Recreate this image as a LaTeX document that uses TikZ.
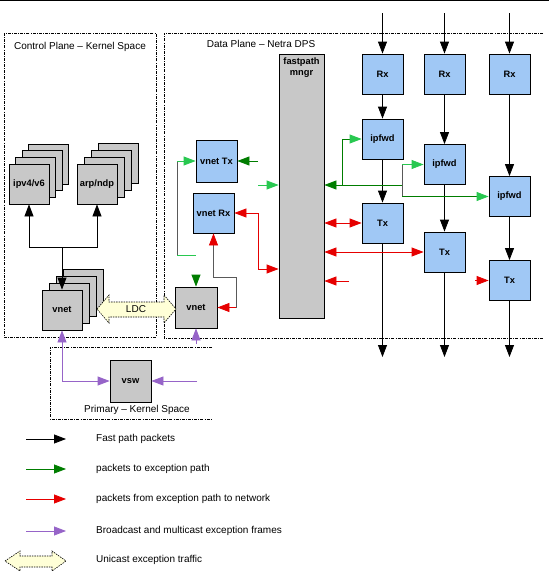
\documentclass[tikz,border=0pt]{standalone}
\usepackage{fontspec}
\setmainfont{Liberation Sans}
\usetikzlibrary{arrows.meta,positioning}
\definecolor{dpsblue}{RGB}{160,200,245}
\definecolor{boxgray}{RGB}{200,200,200}
\definecolor{lgrn}{RGB}{40,200,80}
\definecolor{dgrn}{RGB}{0,125,0}
\definecolor{exred}{RGB}{230,0,0}
\definecolor{bcpurp}{RGB}{150,100,200}
\definecolor{ldcyel}{RGB}{255,255,215}
\tikzset{
 blk/.style={draw,line width=.8pt,fill=dpsblue,minimum width=41pt,minimum height=40pt,inner sep=0pt,font=\fontsize{9.3}{10}\selectfont\bfseries},
 gry/.style={draw,line width=.8pt,fill=boxgray,minimum width=40pt,minimum height=40pt,inner sep=0pt,font=\fontsize{9.3}{10}\selectfont\bfseries},
 plane/.style={draw,line width=.7pt,dash pattern=on 3pt off 1.2pt on .8pt off 1.2pt},
 ttl/.style={font=\fontsize{10}{12}\selectfont,inner sep=0pt},
 fp/.style={draw=black,line width=.8pt,->},
 exr/.style={draw=exred,line width=.8pt},
 exg/.style={draw=dgrn,line width=.8pt},
 exlg/.style={draw=lgrn,line width=.8pt},
 bc/.style={draw=bcpurp,line width=.8pt},
 gline/.style={draw=black!65,line width=.8pt},
 ldcarrow/.style={draw,fill=ldcyel,line width=.6pt,dash pattern=on 1.5pt off 1pt}
}
\begin{document}
\begin{tikzpicture}[x=1pt,y=-1pt,>={Triangle[length=12pt,width=9pt]}]
\useasboundingbox (0,0) rectangle (549,584);
\draw[line width=1pt](0,.5)--(549,.5);
% planes
\draw[plane](4,33) rectangle (156,337);
\draw[plane](543,33)--(164,33)--(164,338)--(543,338);
\draw[plane](212,347)--(50,347)--(50,419)--(212,419);
\node[ttl] (ctltitle) at (80,47){Control Plane -- Kernel Space};
\node[ttl] (dptitle) at (261,44){Data Plane -- Netra DPS};
\node[ttl] (pktitle) at (137,410){Primary -- Kernel Space};
% control plane stacks
\foreach \i in {3,2,1}{\node[gry] at (29+6.6*\i,184-6.6*\i){};\node[gry] at (97+7*\i,184-7*\i){};\node[gry] at (62+7*\i,310-7*\i){};}
\node[gry] (ipv4) at (29,184){ipv4/v6};
\node[gry] (arp) at (97,184){arp/ndp};
\node[gry] (cvnet) at (62,310){vnet};
\coordinate (jn) at (62,247);
\draw[fp](jn) -| (ipv4.south);\draw[fp](jn) -| (arp.south);\draw[fp](jn)--(cvnet.north);
% data plane
\node[gry,minimum width=45pt,minimum height=264pt] (fpm) at (301.5,186){};
\node[ttl,font=\fontsize{9.3}{10.5}\selectfont\bfseries,align=center,below=4pt of fpm.north] (fpmlbl){fastpath\\mngr};
\node[blk,minimum height=42pt] (vtx) at (216.5,161){vnet Tx};
\node[blk] (vrx) at (213.5,213){vnet Rx};
\node[gry,minimum width=42pt,minimum height=41pt] (dvnet) at (196,307.5){vnet};
\node[gry,minimum width=41pt,minimum height=42pt] (vsw) at (130.5,381){vsw};
\foreach \i/\x/\yf/\yt in {1/382.5/139/223,2/444.5/164.5/252,3/509.5/196.5/280.5}{
 \node[blk] (rx\i) at (\x,74){Rx};\node[blk] (ipf\i) at (\x,\yf){ipfwd};\node[blk] (tx\i) at (\x,\yt){Tx};
 \coordinate (in\i) at (\x,13);\coordinate (out\i) at (\x,357);
 \draw[fp](in\i)--(rx\i);\draw[fp](rx\i)--(ipf\i);\draw[fp](ipf\i)--(tx\i);\draw[fp](tx\i)--(out\i);}
% LDC
\draw[ldcarrow](97,309)--(109,295)--(109,302)--(164,302)--(164,295)--(176,309)--(164,323)--(164,317)--(109,317)--(109,323)--cycle;
\node[font=\fontsize{10}{12}\selectfont] (ldc) at (136,309){LDC};
% exception path, green
\coordinate (g1) at (196,255);\coordinate (g2) at (177,255);\coordinate (g3) at (177,161);
\draw[exlg](g1)--(g2);\draw[gline](g2)--(g3);\draw[exlg,->](g3)--(vtx.west);
\coordinate (g4) at (258,161);\draw[exg,->](g4)--(vtx.east);
\coordinate (g5) at (258,185);\draw[exlg,->](g5)--(g5 -| fpm.west);
\coordinate (g6) at (402,185);\coordinate (g7) at (342,185);
\draw[exg,->](g6)--(g6 -| fpm.east);
\draw[exg,-{Triangle[length=12pt,width=9pt,color=lgrn]}](g7) |- (ipf1.west);
\coordinate (g8) at (402,164.5);\coordinate (g9) at (402,196.5);
\draw[gline](g8)--(g9);\draw[exlg,->](g8)--(ipf2.west);
\draw[exg,-{Triangle[length=12pt,width=9pt,color=lgrn]}](g9)--(ipf3.west);
\coordinate (g10) at (196,275);\draw[exg,->](g10)--(dvnet.north);
% exception path, red
\coordinate (r1) at (258,213);\coordinate (r2) at (258,269);
\draw[exr,<->](vrx.east)--(r1)--(r2)--(r2 -| fpm.west);
\coordinate (r3) at (236,307.5);\coordinate (r4) at (213.5,277);
\draw[exr,<-](dvnet.east)--(r3);
\draw[gline,-{Triangle[length=12pt,width=9pt,color=exred]}](r3) |- (r4)--(vrx.south);
\draw[exr,<->](tx1.west -| fpm.east)--(tx1.west);
\draw[exr,<->](tx2.west -| fpm.east)--(tx2.west);
\coordinate (r5) at (349,281);\coordinate (r6) at (475,280.5);
\draw[exr,->](r5)--(r5 -| fpm.east);\draw[exr,->](r6)--(tx3.west);
% broadcast
\draw[bc,<->](cvnet.south) |- (vsw.west);
\coordinate (b1) at (197,381);\draw[bc,->](b1)--(vsw.east);
\coordinate (b2) at (196,344);\draw[bc,->](b2)--(dvnet.south);
% legend
\foreach \y/\c/\t [count=\n] in {439/black/Fast path packets,469/dgrn/packets to exception path,499/exred/packets from exception path to network,531/bcpurp/Broadcast and multicast exception frames}{
 \coordinate (la\n) at (26,\y);\coordinate (lb\n) at (66,\y);
 \draw[draw=\c,line width=.8pt,->](la\n)--(lb\n);
 \node[ttl,anchor=west] (lt\n) at (96,\y){\t};}
\draw[ldcarrow](5,561)--(20,551)--(20,556)--(52,556)--(52,551)--(66,561)--(52,571)--(52,567)--(20,567)--(20,571)--cycle;
\node[ttl,anchor=west] (lt5) at (96,560){Unicast exception traffic};
\end{tikzpicture}
\end{document}
